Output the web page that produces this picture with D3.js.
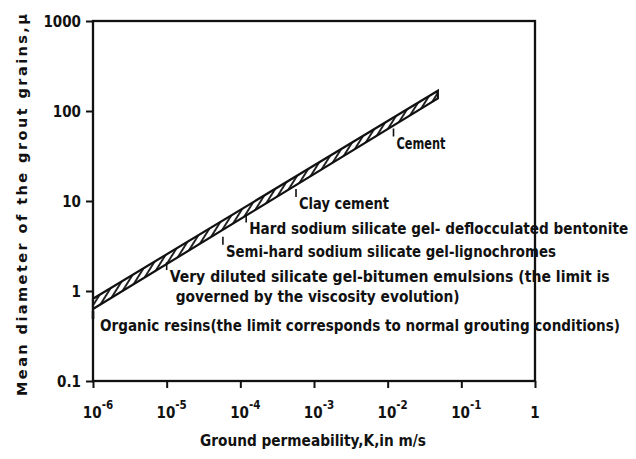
<!DOCTYPE html>
<html>
<head>
<meta charset="utf-8">
<script src="https://cdn.jsdelivr.net/npm/d3@7"></script>
<style>
  html, body { margin: 0; padding: 0; background: #fff; }
  svg { display: block; }
  text { fill: #111; }
</style>
</head>
<body>
<svg id="chart" width="636" height="459"></svg>
<script>
// Permeability range (m/s) over which grouts can penetrate, and the band of
// limiting grain diameter (microns) at its two ends.
const bandK = [1e-6, 0.048];
const bandUpper = [0.82, 168];
const bandLower = [0.63, 138];

// Grout types and the lowest permeability each one can be injected into.
const grouts = [
  "Cement",
  "Clay cement",
  "Hard sodium silicate gel- deflocculated bentonite",
  "Semi-hard sodium silicate gel-lignochromes",
  "Very diluted silicate gel-bitumen emulsions (the limit is|governed by the viscosity evolution)",
  "Organic resins(the limit corresponds to normal grouting conditions)"
];
const groutMinK = [1.2e-2, 5.7e-4, 1.2e-4, 5.8e-5, 1e-5, 1e-6];

// Axis ticks.
const xTicks = [1e-6, 1e-5, 1e-4, 1e-3, 1e-2, 1e-1, 1];
const xTickExp = ["-6", "-5", "-4", "-3", "-2", "-1", ""];
const yTicks = [0.1, 1, 10, 100, 1000];
const yTickLabels = ["0.1", "1", "10", "100", "1000"];

const FONT = "'DejaVu Sans Condensed', 'DejaVu Sans', sans-serif";

const svg = d3.select("#chart");
const mLeft = 93, mRight = 535, mTop = 21, mBottom = 381;

const x = d3.scaleLog().domain([1e-6, 1]).range([mLeft, mRight]);
const y = d3.scaleLog().domain([0.1, 1000]).range([mBottom, mTop]);

// Hatching for the band
const defs = svg.append("defs");
const pat = defs.append("pattern")
  .attr("id", "hatch")
  .attr("patternUnits", "userSpaceOnUse")
  .attr("width", 5.8).attr("height", 10)
  .attr("patternTransform", "rotate(32)");
pat.append("rect").attr("width", 5.8).attr("height", 10).attr("fill", "#fff");
pat.append("line")
  .attr("x1", 2.9).attr("y1", 0).attr("x2", 2.9).attr("y2", 10)
  .attr("stroke", "#111").attr("stroke-width", 1.8);

// Axes (ticks only; labels drawn separately)
const xAxis = d3.axisBottom(x).tickValues(xTicks).tickSize(7).tickFormat("");
const yAxis = d3.axisLeft(y).tickValues(yTicks).tickSize(7).tickFormat("");

const gx = svg.append("g").attr("transform", `translate(0,${mBottom})`).call(xAxis);
const gy = svg.append("g").attr("transform", `translate(${mLeft},0)`).call(yAxis);
[gx, gy].forEach(g => {
  g.select(".domain").remove();
  g.selectAll(".tick line").attr("stroke", "#111").attr("stroke-width", 2);
});

// Frame
svg.append("rect")
  .attr("x", mLeft).attr("y", mTop)
  .attr("width", mRight - mLeft).attr("height", mBottom - mTop)
  .attr("fill", "none").attr("stroke", "#111").attr("stroke-width", 2.3);

// Y tick labels
svg.append("g").selectAll("text")
  .data(yTicks)
  .join("text")
  .attr("x", mLeft - 12)
  .attr("y", d => y(d) + 5.5)
  .attr("text-anchor", "end")
  .attr("font-family", FONT)
  .attr("font-size", 15)
  .attr("font-weight", "bold")
  .text((d, i) => yTickLabels[i]);

// X tick labels with superscript exponents
const xl = svg.append("g").selectAll("text")
  .data(xTicks)
  .join("text")
  .attr("x", (d, i) => x(d) + (xTickExp[i] ? 5 : 0))
  .attr("y", mBottom + 37)
  .attr("text-anchor", "middle")
  .attr("font-family", FONT)
  .attr("font-size", 15)
  .attr("font-weight", "bold");
xl.each(function(d, i) {
  const t = d3.select(this);
  if (xTickExp[i]) {
    t.append("tspan").text("10");
    t.append("tspan").attr("dy", -9).attr("font-size", 11.5).text(xTickExp[i]);
  } else {
    t.text("1");
  }
});

// Band: geometric interpolation along the straight log-log edges
const logInterp = (k, vals) => {
  const t = (Math.log10(k) - Math.log10(bandK[0])) / (Math.log10(bandK[1]) - Math.log10(bandK[0]));
  return Math.pow(10, Math.log10(vals[0]) + t * (Math.log10(vals[1]) - Math.log10(vals[0])));
};

const upperPts = bandK.map((k, i) => [x(k), y(bandUpper[i])]);
const lowerPts = bandK.map((k, i) => [x(k), y(bandLower[i])]);
const poly = upperPts.concat(lowerPts.slice().reverse());

svg.append("path")
  .attr("d", d3.line()(poly) + "Z")
  .attr("fill", "url(#hatch)")
  .attr("stroke", "#111")
  .attr("stroke-width", 2.2)
  .attr("stroke-linejoin", "miter");

// Annotation labels with their tick marks hanging below the lower edge
const labelDy = [23, 24, 19, 27, 18, 22];
const labelDx = [3, 3, 3, 3, 3, 7];
const labelWidths = [[49], [90], [379], [330], [440, 284], [520]];
const lineIndent = [0, 6];

const ann = svg.append("g");
grouts.forEach((txt, i) => {
  const k = groutMinK[i];
  const px = x(k);
  const py = y(logInterp(k, bandLower));
  ann.append("line")
    .attr("x1", px).attr("x2", px)
    .attr("y1", i === 5 ? py + 2 : py + labelDy[i] - 20)
    .attr("y2", py + labelDy[i] - 12)
    .attr("stroke", "#111").attr("stroke-width", i === 5 ? 2.6 : 1.6);
  const lines = txt.split("|");
  lines.forEach((ln, j) => {
    ann.append("text")
      .attr("x", px + labelDx[i] + lineIndent[j])
      .attr("y", py + labelDy[i] + j * 20)
      .attr("font-family", FONT)
      .attr("font-size", 15.5)
      .attr("font-weight", "bold")
      .attr("textLength", labelWidths[i][j])
      .attr("lengthAdjust", "spacingAndGlyphs")
      .text(ln);
  });
});

// Axis titles
svg.append("text")
  .attr("x", 313)
  .attr("y", 446)
  .attr("text-anchor", "middle")
  .attr("font-family", FONT)
  .attr("font-size", 16)
  .attr("font-weight", "bold")
  .attr("textLength", 226)
  .attr("lengthAdjust", "spacingAndGlyphs")
  .text("Ground permeability,K,in m/s");

svg.append("text")
  .attr("transform", "translate(27,205) rotate(-90)")
  .attr("text-anchor", "middle")
  .attr("font-family", "'DejaVu Sans', sans-serif")
  .attr("font-size", 14.5)
  .attr("font-weight", "bold")
  .attr("textLength", 382)
  .attr("lengthAdjust", "spacing")
  .text("Mean diameter of the grout grains,μ");
</script>
</body>
</html>
